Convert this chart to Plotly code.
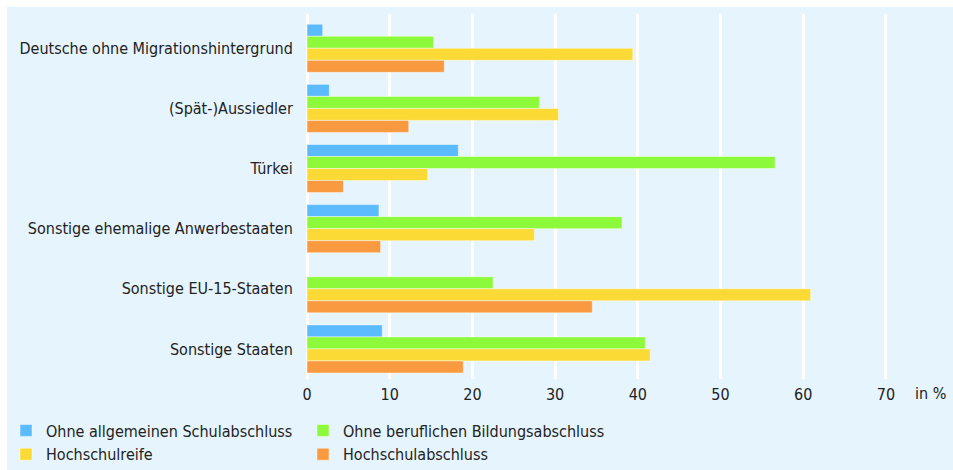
import plotly.graph_objects as go

categories = [
    "Deutsche ohne Migrationshintergrund",
    "(Spät-)Aussiedler",
    "Türkei",
    "Sonstige ehemalige Anwerbestaaten",
    "Sonstige EU-15-Staaten",
    "Sonstige Staaten",
]
series_names = [
    "Ohne allgemeinen Schulabschluss",
    "Ohne beruflichen Bildungsabschluss",
    "Hochschulreife",
    "Hochschulabschluss",
]
ohne_schulabschluss = [1.9, 2.7, 18.3, 8.7, 0.0, 9.1]
ohne_berufsabschluss = [15.3, 28.1, 56.6, 38.1, 22.5, 40.9]
hochschulreife = [39.4, 30.4, 14.6, 27.5, 60.9, 41.5]
hochschulabschluss = [16.6, 12.3, 4.4, 8.9, 34.5, 18.9]
x_ticks = [0, 10, 20, 30, 40, 50, 60, 70]

values = [ohne_schulabschluss, ohne_berufsabschluss, hochschulreife, hochschulabschluss]
colors = ["#5cbafe", "#8cfa3a", "#fcda36", "#f99940"]
legend_ids = ["legend", "legend2", "legend", "legend2"]

FONT = "DejaVu Sans Condensed, DejaVu Sans, sans-serif"
BG = "#e6f4fd"
FS = 16

fig = go.Figure()
for name, vals, col, lg in zip(series_names, values, colors, legend_ids):
    fig.add_trace(go.Bar(
        y=categories, x=vals, name=name, orientation="h",
        marker=dict(color=col, line=dict(color="rgba(255,255,255,0.45)", width=1)),
        legend=lg,
    ))

W, H = 953, 470
ml, mr, mt, mb = 307, 34, 14, 91
pw = W - ml - mr
ph = H - mt - mb

fig.update_layout(
    width=W, height=H,
    margin=dict(l=ml, r=mr, t=mt, b=mb, autoexpand=False),
    paper_bgcolor="white",
    plot_bgcolor="rgba(0,0,0,0)",
    barmode="group",
    bargap=0.2,
    bargroupgap=0,
    font=dict(family=FONT, size=FS, color="#222222"),
    shapes=[dict(
        type="rect", xref="paper", yref="paper",
        x0=(7 - ml) / pw, x1=(W - ml) / pw,
        y0=-(mb + 5) / ph, y1=1 + 7 / ph,
        fillcolor=BG, line=dict(width=0), layer="below",
    )],
    xaxis=dict(
        range=[0, 74], tickvals=x_ticks, showgrid=True, gridcolor="white",
        gridwidth=3, zeroline=True, zerolinecolor="white", zerolinewidth=3,
        ticks="outside", ticklen=1, tickcolor="rgba(0,0,0,0)",
        showline=False, fixedrange=True, automargin=False,
    ),
    yaxis=dict(
        range=[5.5, -0.57], showgrid=False, zeroline=False,
        ticks="outside", ticklen=10, tickcolor="rgba(0,0,0,0)", automargin=False,
        fixedrange=True,
    ),
    legend=dict(
        orientation="v", xref="container", yref="container",
        x=6 / W, xanchor="left",
        y=(H - 442.5) / H, yanchor="middle", bgcolor="rgba(0,0,0,0)",
        font=dict(size=FS), tracegroupgap=0,
    ),
    legend2=dict(
        orientation="v", xref="container", yref="container",
        x=303 / W, xanchor="left",
        y=(H - 442.5) / H, yanchor="middle", bgcolor="rgba(0,0,0,0)",
        font=dict(size=FS), tracegroupgap=0,
    ),
    annotations=[dict(
        text="in %", xref="paper", yref="paper",
        x=(913 - ml) / pw, xanchor="left", y=-(14 / ph), yanchor="middle",
        showarrow=False, font=dict(size=FS),
    )],
)

fig.write_html(
    "out.html",
    config={"displayModeBar": False},
    post_script="document.body.style.margin='0';document.body.style.overflow='hidden';",
)
